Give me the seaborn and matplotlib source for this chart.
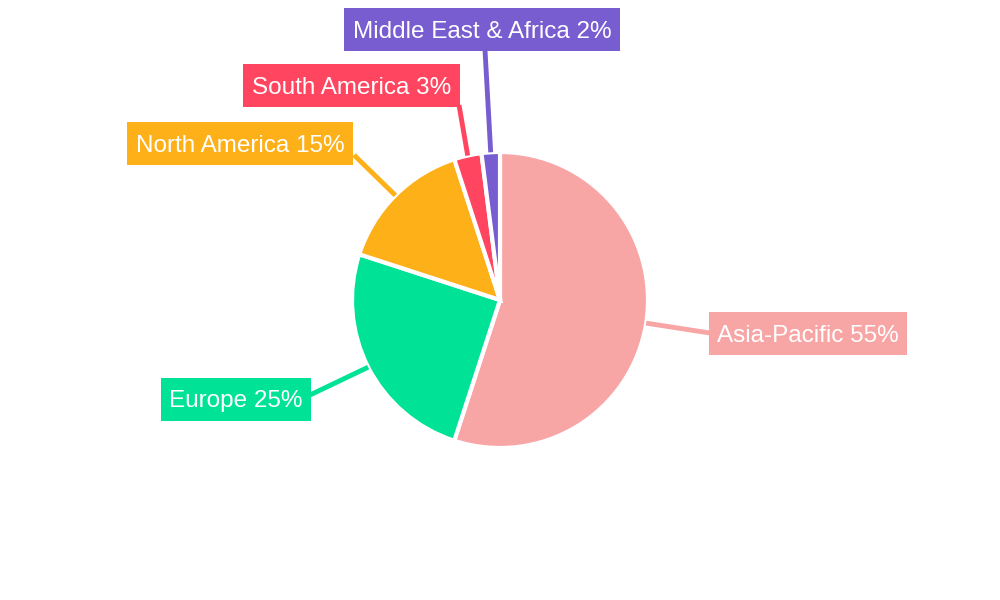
import numpy as np
import matplotlib.pyplot as plt
from matplotlib.patches import Rectangle
import seaborn as sns

regions = ["Asia-Pacific", "Europe", "North America", "South America", "Middle East & Africa"]
shares = [55, 25, 15, 3, 2]
colors = ["#F8A5A5", "#00E396", "#FEB019", "#FF4560", "#775DD0"]

# label box centres and leader-line end points, pixel coordinates (y from top)
label_pos = [(808, 333.5), (236, 399.5), (240, 143.5), (351.5, 85.5), (482, 29.5)]
line_end = [(710, 333), (310, 395), (354, 155), (459, 105), (485, 50)]

sns.set_theme(style="white")
plt.rcParams["font.family"] = ["Liberation Sans", "DejaVu Sans"]

fig = plt.figure(figsize=(10, 6), dpi=100)
ax = fig.add_axes([0, 0, 1, 1])

cx, cy, r = 500, 300, 148
wedges, _ = ax.pie(shares, colors=colors, startangle=90, counterclock=False,
                   center=(cx, cy), radius=r, frame=True,
                   wedgeprops=dict(edgecolor="white", linewidth=3))
ax.set_xlim(0, 1000)
ax.set_ylim(0, 600)
ax.set_aspect("equal")
ax.axis("off")

renderer = fig.canvas.get_renderer()
for w, name, s, col, (lx, ly), (ex, ey) in zip(wedges, regions, shares, colors, label_pos, line_end):
    mid = np.deg2rad((w.theta1 + w.theta2) / 2)
    px, py = cx + r * np.cos(mid), cy + r * np.sin(mid)
    ax.plot([px, ex], [py, 600 - ey], color=col, lw=3.5, zorder=1, solid_capstyle="butt")
    t = ax.text(lx, 600 - ly - 2, f"{name} {s}%", ha="center", va="center", color="white",
                fontsize=17.5, zorder=5)
    bb = t.get_window_extent(renderer).transformed(ax.transData.inverted())
    ax.add_patch(Rectangle((bb.x0 - 8.5, 600 - ly - 21.5), bb.width + 17, 43,
                           fc=col, ec="none", zorder=4))

fig.savefig("out.png", dpi=100)
